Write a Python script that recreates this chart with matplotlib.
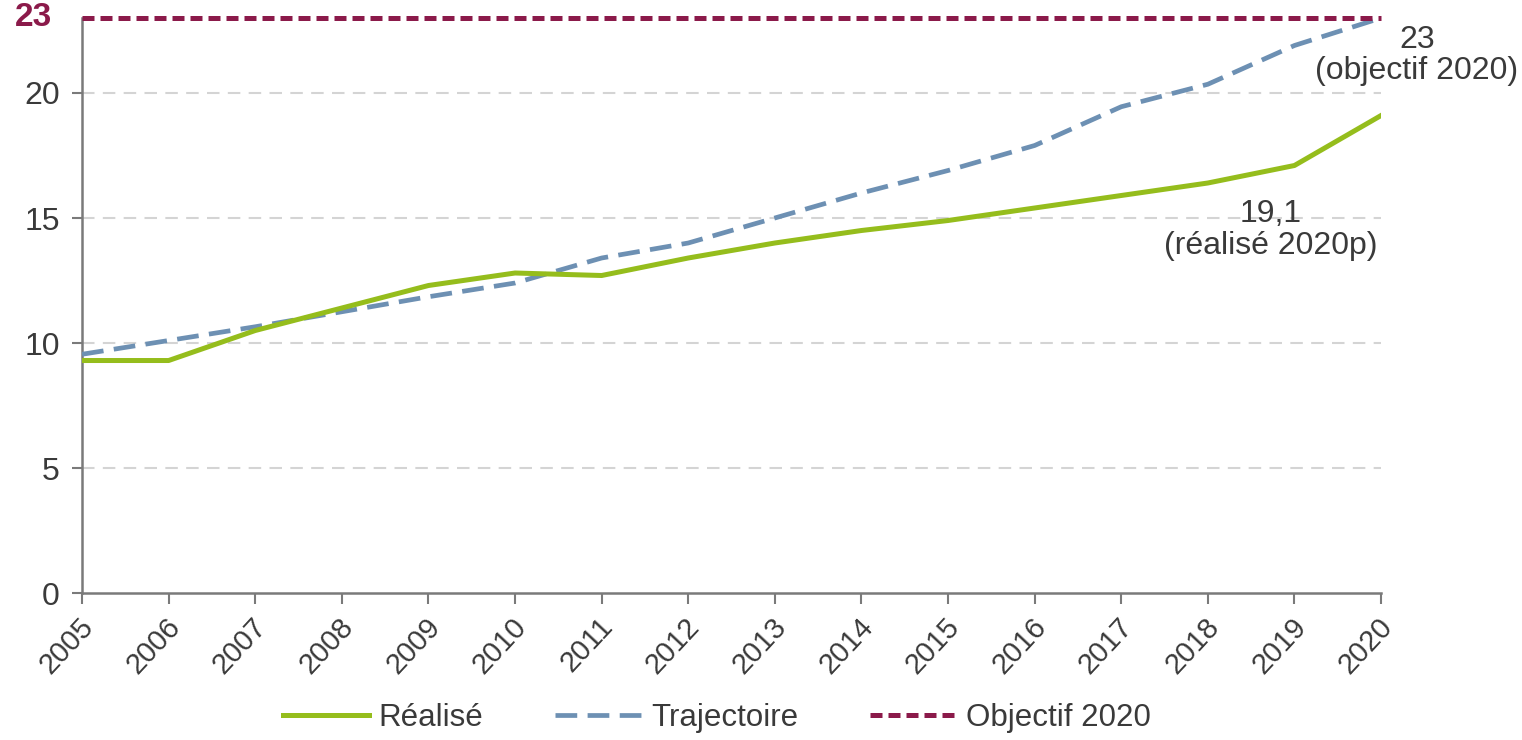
import matplotlib.pyplot as plt
import matplotlib.transforms as mtransforms
from matplotlib.lines import Line2D

plt.rcParams['font.family'] = ['Liberation Sans', 'DejaVu Sans']

# Part des énergies renouvelables (%)
years = list(range(2005, 2021))
realise = [9.3, 9.3, 10.5, 11.4, 12.3, 12.8, 12.7, 13.4, 14.0, 14.5,
           14.9, 15.4, 15.9, 16.4, 17.1, 19.1]
trajectoire = [9.55, 10.1, 10.65, 11.25, 11.85, 12.4, 13.4, 14.0, 15.0, 16.0,
               16.9, 17.9, 19.45, 20.35, 21.9, 23.0]
objectif = 23
yticks = [0, 5, 10, 15, 20]

c_real = '#95bd1c'
c_traj = '#6d90b3'
c_obj = '#8b1a4a'
c_text = '#3a3a3a'
c_axis = '#7a7a7a'

fig = plt.figure(figsize=(15.22, 7.40), dpi=100)
ax = fig.add_axes([0.0539, 0.1986, 0.8535, 0.7771])

ax.set_xlim(years[0], years[-1])
ax.set_ylim(0, objectif)

# grille horizontale légère
for v in yticks[1:]:
    ax.axhline(v, color='#d4d4d4', lw=1.5, ls=(0, (6, 4)), zorder=1)

ax.plot(years, trajectoire, color=c_traj, lw=3.4, ls=(0, (4.6, 2.2)),
        zorder=3)
ax.plot(years, realise, color=c_real, lw=3.6, zorder=4,
        solid_joinstyle='round')
ax.plot([years[0], years[-1]], [objectif, objectif], color=c_obj, lw=3.6,
        ls=(0, (2.4, 1.2)), zorder=5, clip_on=False)

for s in ['top', 'right']:
    ax.spines[s].set_visible(False)
for s in ['left', 'bottom']:
    ax.spines[s].set_color(c_axis)
    ax.spines[s].set_linewidth(1.8)

ax.set_yticks(yticks)
ax.set_yticklabels([str(v) for v in yticks])
ax.tick_params(axis='y', length=7, width=1.5, color=c_axis, pad=9,
               labelsize=23, labelcolor=c_text)

# valeur cible en tête de l'axe vertical
ax.text(-0.023, objectif, str(objectif), transform=ax.get_yaxis_transform(),
        ha='right', va='center', fontsize=24, fontweight='bold', color=c_obj)

ax.set_xticks(years)
ax.set_xticklabels([str(y) for y in years], rotation=47, ha='right',
                   va='center', rotation_mode='anchor')
ax.tick_params(axis='x', length=8, width=1.5, color=c_axis, pad=13,
               labelsize=21, labelcolor=c_text)
shift = mtransforms.ScaledTranslation(0.07, 0, fig.dpi_scale_trans)
for lbl in ax.get_xticklabels():
    lbl.set_transform(lbl.get_transform() + shift)

ax.text(2020.415, 21.5, '23\n(objectif 2020)', ha='center', va='center',
        fontsize=23, color=c_text, linespacing=1.05)
ax.text(2018.73, 14.52, '19,1\n(réalisé 2020p)', ha='center', va='center',
        fontsize=23, color=c_text, linespacing=1.05)

handles = [
    Line2D([], [], color=c_real, lw=3.6),
    Line2D([], [], color=c_traj, lw=3.4, ls=(0, (4.6, 2.2))),
    Line2D([], [], color=c_obj, lw=3.6, ls=(0, (2.4, 1.2))),
]
fig.legend(handles, ['Réalisé', 'Trajectoire', 'Objectif 2020'],
           loc='center', bbox_to_anchor=(0.471, 0.03), ncol=3, frameon=False,
           fontsize=22.5, handlelength=2.75, handletextpad=0.32,
           columnspacing=2.3, labelcolor=c_text)

fig.savefig('out.png', dpi=100)
